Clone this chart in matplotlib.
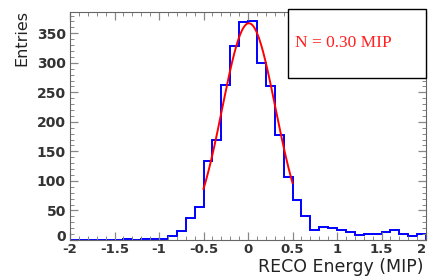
import numpy as np
import matplotlib
matplotlib.use("Agg")
import matplotlib.pyplot as plt
import matplotlib.transforms as mtrans
from matplotlib.ticker import MultipleLocator

# histogram: 40 bins of 0.1 MIP from -2 to 2
edges = np.round(np.arange(-2.0, 2.0001, 0.1), 2)
counts = [0, 0, 0, 0, 0, 0, 1, 0, 1, 1, 1,
          7, 15, 37, 56, 133, 169, 263, 328, 369, 370,
          300, 260, 178, 106, 68, 41, 17, 22, 20, 17,
          14, 8, 10, 10, 14, 17, 10, 6, 10]
xticks = [-2, -1.5, -1, -0.5, 0, 0.5, 1, 1.5, 2]
xticklabels = ["-2", "-1.5", "-1", "-0.5", "0", "0.5", "1", "1.5", "2"]
yticks = [0, 50, 100, 150, 200, 250, 300, 350]

# gaussian fit parameters, fit range
fit_amp = 367.0
fit_mean = 0.01
fit_sigma = 0.30
fit_range = (-0.5, 0.5)

plt.rcParams["font.family"] = "DejaVu Sans"

fig = plt.figure(figsize=(4.29, 2.77), dpi=100)
ax = fig.add_axes([70/429, 1 - 240/277, 356/429, 228/277])

ax.stairs(counts, edges, color="#0000ff", lw=1.4, baseline=0)
xf = np.linspace(fit_range[0], fit_range[1], 200)
ax.plot(xf, fit_amp*np.exp(-0.5*((xf - fit_mean)/fit_sigma)**2), color="#ff0000", lw=1.4)

ax.set_xlim(-2, 2)
ax.set_ylim(0, 386)
ax.set_xticks(xticks)
ax.set_xticklabels(xticklabels, fontsize=9.5, fontweight="bold", color="#333333")
ax.set_yticks(yticks)
ax.set_yticklabels([str(v) for v in yticks], fontsize=10, fontweight="bold", color="#333333")
ax.xaxis.set_minor_locator(MultipleLocator(0.1))
ax.yaxis.set_minor_locator(MultipleLocator(10))
ax.tick_params(which="both", direction="in", top=True, right=True, color="#888888")
ax.tick_params(which="major", length=6, width=0.9, pad=3)
ax.tick_params(which="minor", length=3, width=0.7)
ax.tick_params(axis="x", pad=2)
ax.get_xticklabels()[-1].set_horizontalalignment("right")
ax.get_xticklabels()[-1].set_x(2.03)
y0 = ax.get_yticklabels()[0]
y0.set_transform(y0.get_transform() + mtrans.ScaledTranslation(0, 3/72, fig.dpi_scale_trans))
for s in ax.spines.values():
    s.set_color("#666666")
    s.set_linewidth(0.8)

fig.text(424/429, 1 - 267/277, "RECO Energy (MIP)", ha="right", va="center",
         fontsize=12.5, color="#222222")
fig.text(22/429, 1 - 10/277, "Entries", ha="center", va="top", rotation=90,
         fontsize=11.5, color="#222222")

# stat box
box = plt.Rectangle((288/429, 1 - 78/277), 138/429, 69/277, transform=fig.transFigure,
                    facecolor="white", edgecolor="black", lw=1.0, zorder=5)
fig.add_artist(box)
fig.text(295/429, 1 - 43/277, "N = 0.30 MIP", ha="left", va="center",
         family="Liberation Serif", fontsize=12.5, color="#ff2020", zorder=6)

fig.savefig("out.png", dpi=100)
